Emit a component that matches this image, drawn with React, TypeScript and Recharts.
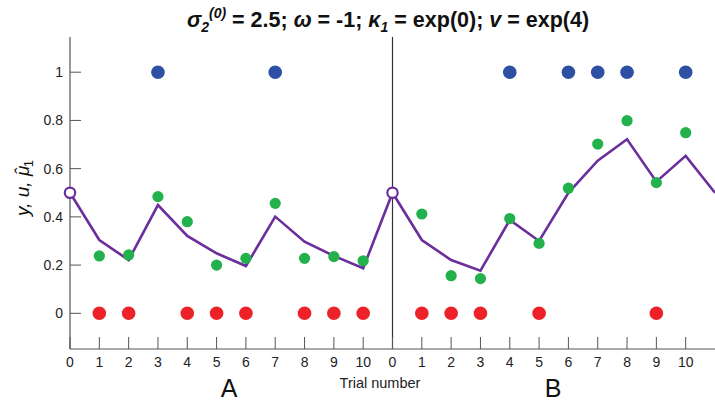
import React from 'react';
import { ComposedChart, Line, XAxis, YAxis, ReferenceLine } from 'recharts';

// trial numbers shown under each block
const trials = [0, 1, 2, 3, 4, 5, 6, 7, 8, 9, 10];

// block A: outcome y, input u, prediction mu-hat
const outcomeA = [null, 0, 0, 1, 0, 0, 0, 1, 0, 0, 0];
const inputA = [null, 0.238, 0.242, 0.484, 0.38, 0.2, 0.228, 0.456, 0.228, 0.235, 0.218];
const muA = [0.5, 0.304, 0.221, 0.449, 0.321, 0.249, 0.196, 0.401, 0.297, 0.238, 0.187];

// block B
const outcomeB = [null, 0, 0, 0, 1, 0, 1, 1, 1, 0, 1];
const inputB = [null, 0.412, 0.156, 0.144, 0.393, 0.29, 0.519, 0.702, 0.799, 0.542, 0.749];
const muB = [0.5, 0.304, 0.221, 0.177, 0.387, 0.3, 0.5, 0.633, 0.722, 0.546, 0.653];

// start of the following block (cut off at the right edge)
const nextStartMu = 0.5;

const yTicks = [0, 0.2, 0.4, 0.6, 0.8, 1];

const BLUE = '#2e50a4';
const RED = '#ec2228';
const GREEN = '#22b14c';
const PURPLE = '#6b2e9c';
const AXIS = '#555';
const FONT = "'Liberation Sans', Arial, Helvetica, sans-serif";

const blockLen = trials.length;

const data = [
  ...trials.map((t, i) => ({ x: i, trial: t, outcome: outcomeA[i], input: inputA[i], mu: muA[i] })),
  ...trials.map((t, i) => ({ x: blockLen + i, trial: t, outcome: outcomeB[i], input: inputB[i], mu: muB[i] })),
  { x: 2 * blockLen, trial: null, outcome: null, input: null, mu: nextStartMu },
];

const xTicks = data.slice(0, 2 * blockLen).map((d) => d.x);

const BottomTick = (props: any) => {
  const { x, y, payload } = props;
  const axisY = y - 8;
  return (
    <g>
      <line x1={x} x2={x} y1={axisY} y2={axisY - 12} stroke={AXIS} strokeWidth={1} />
      <text x={x} y={y} dy="0.71em" textAnchor="middle" fontSize={14} fontFamily={FONT} fill="#222">
        {payload.value % blockLen}
      </text>
    </g>
  );
};

const TopTick = (props: any) => {
  const { x, y } = props;
  return <line x1={x} x2={x} y1={y} y2={y + 10} stroke={AXIS} strokeWidth={1} />;
};

const LeftTick = (props: any) => {
  const { x, y, payload } = props;
  const axisX = x + 7;
  return (
    <g>
      <line x1={axisX} x2={axisX + 11} y1={y} y2={y} stroke={AXIS} strokeWidth={1} />
      <text x={x} y={y} dy="0.355em" textAnchor="end" fontSize={14} fontFamily={FONT} fill="#222">
        {payload.value}
      </text>
    </g>
  );
};

const outcomeDot = (p: any) => {
  const v = p.payload?.outcome;
  if (v == null) return <g key={`o-${p.index}`} />;
  return <circle key={`o-${p.index}`} cx={p.cx} cy={p.cy} r={6.8} fill={v >= 0.5 ? BLUE : RED} />;
};

const inputDot = (p: any) => {
  if (p.payload?.input == null) return <g key={`u-${p.index}`} />;
  return <circle key={`u-${p.index}`} cx={p.cx} cy={p.cy} r={5.6} fill={GREEN} />;
};

const muDot = (p: any) => {
  if (p.payload?.trial !== 0) return <g key={`m-${p.index}`} />;
  return <circle key={`m-${p.index}`} cx={p.cx} cy={p.cy} r={5.2} fill="#fff" stroke={PURPLE} strokeWidth={2.2} />;
};

const App: React.FC = () => {
  return (
    <div style={{ position: 'absolute', left: 0, top: 0, width: 715, height: 406, background: '#fff' }}>
      <ComposedChart
        width={715}
        height={406}
        data={data}
        margin={{ top: 37, right: 0, bottom: 0, left: 0 }}
      >
        <XAxis
          xAxisId="bottom"
          dataKey="x"
          type="number"
          domain={[0, 2 * blockLen]}
          ticks={xTicks}
          height={57}
          tickSize={0}
          tickMargin={8}
          tickLine={false}
          axisLine={{ stroke: AXIS, strokeWidth: 1.2 }}
          tick={<BottomTick />}
          interval={0}
        />
        <XAxis
          xAxisId="top"
          orientation="top"
          dataKey="x"
          type="number"
          domain={[0, 2 * blockLen]}
          ticks={xTicks}
          height={0}
          tickSize={0}
          tickMargin={0}
          tickLine={false}
          axisLine={{ stroke: AXIS, strokeWidth: 1.2 }}
          tick={<TopTick />}
          interval={0}
        />
        <YAxis
          type="number"
          domain={[-0.148, 1.146]}
          ticks={yTicks}
          width={70}
          tickSize={0}
          tickMargin={7}
          tickLine={false}
          axisLine={{ stroke: AXIS, strokeWidth: 1.2 }}
          tick={<LeftTick />}
          interval={0}
        />
        <ReferenceLine xAxisId="bottom" x={blockLen} stroke="#333" strokeWidth={1.2} />
        <Line
          xAxisId="bottom"
          dataKey="mu"
          stroke={PURPLE}
          strokeWidth={2.6}
          dot={muDot}
          activeDot={false}
          isAnimationActive={false}
          type="linear"
        />
        <Line
          xAxisId="bottom"
          dataKey="input"
          stroke="none"
          dot={inputDot}
          activeDot={false}
          isAnimationActive={false}
        />
        <Line
          xAxisId="bottom"
          dataKey="outcome"
          stroke="none"
          dot={outcomeDot}
          activeDot={false}
          isAnimationActive={false}
        />
      </ComposedChart>
      <svg
        width={715}
        height={406}
        style={{ position: 'absolute', left: 0, top: 0, pointerEvents: 'none' }}
      >
        <text
          x={388}
          y={27}
          textAnchor="middle"
          fontSize={21.5}
          fontWeight="bold"
          fontFamily={"'Liberation Sans Narrow', " + FONT}
          fill="#111"
        >
          <tspan fontStyle="italic">σ</tspan>
          <tspan fontStyle="italic" fontSize={14} dy={5}>2</tspan>
          <tspan fontStyle="italic" fontSize={14} dy={-14}>(0)</tspan>
          <tspan dy={9}> = 2.5; </tspan>
          <tspan fontStyle="italic">ω</tspan>
          <tspan> = -1; </tspan>
          <tspan fontStyle="italic">κ</tspan>
          <tspan fontStyle="italic" fontSize={14} dy={5}>1</tspan>
          <tspan dy={-5}> = exp(0); </tspan>
          <tspan fontStyle="italic">v</tspan>
          <tspan> = exp(4)</tspan>
        </text>
        <text
          transform="translate(29, 188) rotate(-90)"
          textAnchor="middle"
          fontSize={19}
          fontFamily={FONT}
          fill="#111"
        >
          <tspan fontStyle="italic">y, u, μ</tspan>
          <tspan fontStyle="italic" dx={-9} dy={-1}>ˆ</tspan>
          <tspan fontSize={13} dx={1} dy={5}>1</tspan>
        </text>
        <text x={380} y={388} textAnchor="middle" fontSize={14.5} fontFamily={FONT} fill="#222">
          Trial number
        </text>
        <text x={229} y={397} textAnchor="middle" fontSize={25} fontFamily={FONT} fill="#111">
          A
        </text>
        <text x={553} y={397} textAnchor="middle" fontSize={25} fontFamily={FONT} fill="#111">
          B
        </text>
      </svg>
    </div>
  );
};

export default App;
